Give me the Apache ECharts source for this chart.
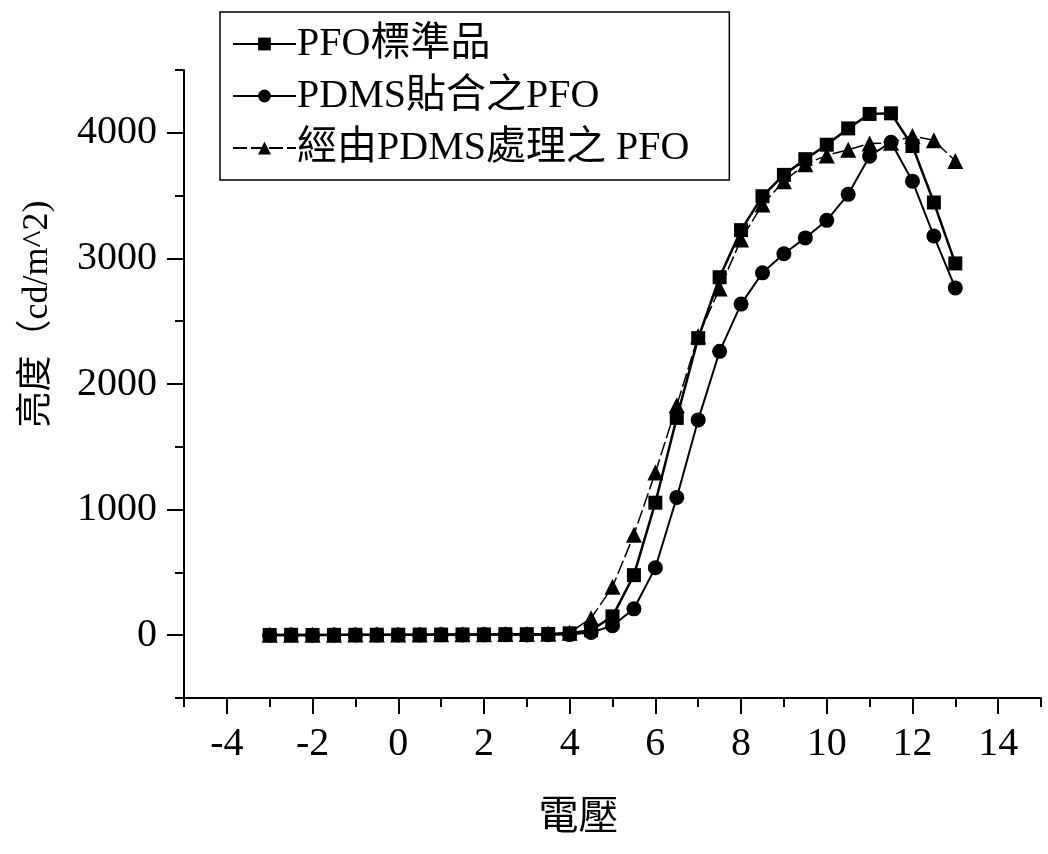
<!DOCTYPE html>
<html>
<head>
<meta charset="utf-8">
<script src="https://cdn.jsdelivr.net/npm/echarts@6/dist/echarts.min.js"></script>
<style>html,body{margin:0;padding:0;background:#fff;}#chart{width:1048px;height:854px;}</style>
</head>
<body>
<div id="chart"></div>
<script>
// Data
var voltage = [-3,-2.5,-2,-1.5,-1,-0.5,0,0.5,1,1.5,2,2.5,3,3.5,4,4.5,5,5.5,6,6.5,7,7.5,8,8.5,9,9.5,10,10.5,11,11.5,12,12.5,13];
var pfoStandard = [2,3,2,3,3,4,4,5,5,6,6,8,8,10,15,40,150,478,1055,1730,2365,2850,3225,3495,3665,3790,3905,4035,4150,4155,3895,3445,2960];
var pdmsBonded = [0,2,0,1,2,1,2,1,3,2,3,3,2,4,5,22,75,210,537,1097,1714,2260,2636,2885,3037,3163,3303,3510,3814,3925,3615,3178,2765];
var pdmsTreated = [3,4,3,4,5,5,6,6,7,7,8,9,10,12,20,135,385,800,1295,1830,2380,2760,3150,3430,3615,3750,3820,3865,3915,3920,3975,3940,3775];
var seriesNames = ['PFO標準品','PDMS貼合之PFO','經由PDMS處理之 PFO'];
var xMajorTicks = [-4,-2,0,2,4,6,8,10,12,14];
var yMajorTicks = [0,1000,2000,3000,4000];
var xAxisName = '電壓';
var yAxisName = '亮度（cd/m^2)';

function pairs(ys){ return voltage.map(function(v,i){ return [v, ys[i]]; }); }

var FONT = "'Liberation Serif', 'Noto Sans CJK TC', serif";
var chart = echarts.init(document.getElementById('chart'), null, {renderer:'canvas'});
var option = {
  backgroundColor: '#fff',
  animation: false,
  textStyle: {fontFamily: FONT, color: '#000'},
  grid: {left: 184, right: 7, top: 70, bottom: 156, containLabel: false},
  legend: {
    left: 220, top: 12, orient: 'vertical',
    data: seriesNames,
    itemWidth: 63, itemHeight: 16, itemGap: 8,
    padding: [10, 40, 10, 12],
    borderColor: '#000', borderWidth: 1.5,
    textStyle: {fontFamily: FONT, fontSize: 40, color: '#000', lineHeight: 44, padding: [0,0,0,-4]}
  },
  xAxis: [{
    type: 'value', min: -5, max: 15, interval: 1, position: 'bottom',
    name: xAxisName, nameLocation: 'middle', nameGap: 100,
    nameTextStyle: {fontFamily: FONT, fontSize: 40, color: '#000', padding: [0, 68, 0, 0]},
    axisLine: {onZero: false, lineStyle: {color: '#000', width: 2}},
    axisTick: {show: true, inside: false, length: 16, lineStyle: {color: '#000', width: 2}, customValues: xMajorTicks},
    axisLabel: {fontFamily: FONT, fontSize: 40, color: '#000', margin: 26, customValues: xMajorTicks,
      formatter: function(v){ return String(v); }},
    splitLine: {show: false}
  },{
    type: 'value', min: -5, max: 15, interval: 1, position: 'bottom', gridIndex: 0,
    axisLine: {show: false, onZero: false},
    axisTick: {show: true, inside: false, length: 9, lineStyle: {color: '#000', width: 2}},
    axisLabel: {show: false},
    splitLine: {show: false}
  }],
  yAxis: [{
    type: 'value', min: -500, max: 4500, interval: 500, position: 'left',
    name: yAxisName, nameLocation: 'middle', nameGap: 128,
    nameTextStyle: {fontFamily: FONT, fontSize: 36, color: '#000', padding: [0, 0, 0, 140]},
    axisLine: {show: true, onZero: false, lineStyle: {color: '#000', width: 2}},
    axisTick: {show: true, inside: false, length: 17, lineStyle: {color: '#000', width: 2}, customValues: yMajorTicks},
    axisLabel: {fontFamily: FONT, fontSize: 40, color: '#000', margin: 27, customValues: yMajorTicks,
      formatter: function(v){ return String(v); }},
    splitLine: {show: false}
  },{
    type: 'value', min: -500, max: 4500, interval: 500, position: 'left', gridIndex: 0,
    axisLine: {show: false, onZero: false},
    axisTick: {show: true, inside: false, length: 9, lineStyle: {color: '#000', width: 2}},
    axisLabel: {show: false},
    splitLine: {show: false}
  }],
  series: [{
    name: seriesNames[0], type: 'line', data: pairs(pfoStandard),
    symbol: 'rect', symbolSize: 14, showAllSymbol: true,
    lineStyle: {color: '#000', width: 2.5}, itemStyle: {color: '#000'}, z: 3
  },{
    name: seriesNames[1], type: 'line', data: pairs(pdmsBonded),
    symbol: 'circle', symbolSize: 15, showAllSymbol: true,
    lineStyle: {color: '#000', width: 2}, itemStyle: {color: '#000'}, z: 2
  },{
    name: seriesNames[2], type: 'line', data: pairs(pdmsTreated),
    symbol: 'triangle', symbolSize: 16, showAllSymbol: true,
    lineStyle: {color: '#000', width: 1.5, type: [14, 4]}, itemStyle: {color: '#000'}, z: 4
  }]
};
chart.setOption(option);
</script>
</body>
</html>
